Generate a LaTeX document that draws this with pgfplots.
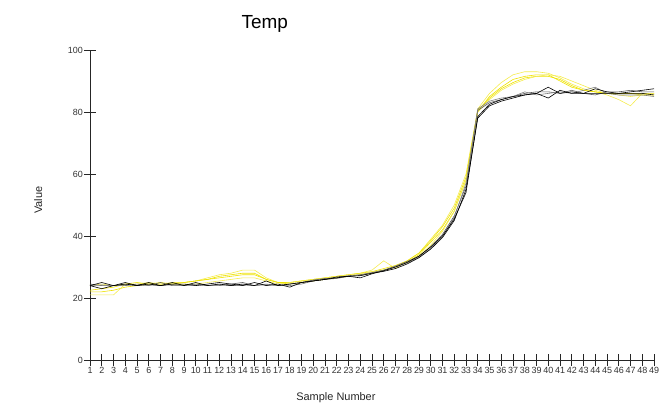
\documentclass[border=0pt]{standalone}
\usepackage{fontspec}
\setmainfont{Liberation Sans}
\usepackage{pgfplots}
\usepackage{pgfplotstable}
\pgfplotsset{compat=1.18}

\definecolor{ylw}{RGB}{238,226,0}
\definecolor{ylwlight}{RGB}{245,236,80}
\definecolor{drkgray}{RGB}{90,90,90}

% sample, four black/grey runs, four yellow runs
\pgfplotstableread{
n  b1   b2   b3   b4   y1   y2   y3   y4
1  24   24   24.5 24   22   21   22.5 24
2  25   23   24   24.2 22   21   23   24.5
3  24   24   24   24   22.5 21   23.5 24
4  24.5 25   24   24.3 23.5 24.5 24.5 24.5
5  24   24   24.5 24   24   24.5 25   24
6  24.5 25   24   24.2 24.5 25   24.5 24.5
7  24   24   25   24   24.5 24.5 25   24.5
8  25   24.5 24   24.3 24.5 25   24.5 24.5
9  24   24.5 24   24   25   25   25   24.5
10 25   24   24.5 24.2 25.5 25.5 25.5 24.5
11 24   24.5 24   24   26   26.5 26   25
12 24.5 25   24   24.3 27   27.5 26.5 25.5
13 24   24.5 24.5 24   27.5 28   27   26
14 24.5 24   25   24.2 28   29   27.5 26.5
15 24   25   24   24   28   29   27.5 26.5
16 25.5 24   24.5 24.3 26   26.5 26   25.5
17 24   24.5 24   24   25   25   25   24.5
18 24.5 23.5 24.5 24   24.5 25   25   25
19 25   25   25   24.5 25   25.5 25.5 25.5
20 25.5 25.5 25.8 25.5 25.5 26   26   26
21 26   26   26.3 26   26   26.5 26.5 26.5
22 26.5 26.8 26.5 26.3 26.5 27   27   27
23 27   27   27.2 27   27   27.5 27.5 27.5
24 27.2 26.5 27.5 27.3 27.5 28   28   27.8
25 28   27.8 28.2 28   28   29   28.5 28.5
26 28.6 28.8 29   28.8 29   32   29.5 29
27 29.5 30   30.3 30   30   29.5 30.5 30
28 31   31.5 31.8 31.3 31.5 32   32   31.5
29 33   33.5 33.5 33.2 34   34.5 34.5 33.5
30 35.8 36.5 36.5 36   38   39   38.5 37
31 39.5 40   40.5 40   42   43.5 43   41.5
32 45   45.5 46.5 46   48   50   49   48
33 55   54   56   57   58   60   59   58
34 78   78.5 80.5 81   80   81   80.5 80
35 82   82.5 83   83.5 85   86   84.5 84
36 83.5 84   84   84.5 88   89.5 87.5 87
37 84.5 85   85   85   90.5 92   89.5 89
38 85.5 85.5 86   86.5 91.5 93   91   90.5
39 86   86   86.5 85.5 92   93   91.5 91.5
40 84.5 88   86.5 86   92   92.5 91.5 92
41 87   86   86   86.5 90   91   90.5 91.5
42 86   86.5 87   86   88   89   88.5 90
43 86   86   86   87   87   87.5 87   88.5
44 87.5 86   85.5 88   86.5 86.5 86.5 87
45 86.5 86   86.5 86   86   85.5 86   86
46 86   86   86.5 85.5 86   84   86   85.5
47 86   86.5 87   85.5 86   82   86   85
48 86   87   86.5 85.5 86   86   85.5 85.5
49 85.5 87.5 86.5 85   86   86   85.5 86
}\temptable

\begin{document}
\begin{tikzpicture}
\begin{axis}[
    at={(0,0)}, anchor=south west,
    scale only axis,
    width=564bp, height=310bp,
    xmin=1, xmax=49,
    ymin=0, ymax=100,
    axis x line=bottom, axis y line=left,
    axis line style={-, black!85},
    xtick={1,...,49},
    ytick={0,20,40,60,80,100},
    tick align=center,
    major tick length=12bp,
    tick style={black!85, line width=0.6pt},
    tick label style={font=\fontsize{9}{10}\selectfont, text=black!80},
    xticklabel style={inner sep=1pt},
    yticklabel style={inner sep=1pt},
    /pgf/number format/assume math mode=true,
    title={Temp},
    title style={at={(axis description cs:0.31,1.064)}, anchor=center, yshift=0pt,
                 font=\fontsize{19}{21}\selectfont},
    xlabel={Sample Number},
    xlabel style={at={(axis description cs:0.436,-0.12)}, anchor=center,
                  font=\fontsize{11}{12}\selectfont, text=black!85},
    ylabel={Value},
    ylabel style={at={(axis description cs:-0.092,0.516)}, anchor=center,
                  font=\fontsize{11}{12}\selectfont, text=black!85},
    clip=false,
    every axis plot/.append style={line width=0.6pt},
]
\addplot[ylw] table[x=n, y=y1] {\temptable};
\addplot[ylwlight] table[x=n, y=y2] {\temptable};
\addplot[ylw] table[x=n, y=y3] {\temptable};
\addplot[ylwlight] table[x=n, y=y4] {\temptable};
\addplot[drkgray] table[x=n, y=b3] {\temptable};
\addplot[gray] table[x=n, y=b4] {\temptable};
\addplot[black] table[x=n, y=b1] {\temptable};
\addplot[black] table[x=n, y=b2] {\temptable};
\end{axis}
\path[use as bounding box] (-90bp,-43bp) rectangle (574bp,360bp);
\end{tikzpicture}
\end{document}
